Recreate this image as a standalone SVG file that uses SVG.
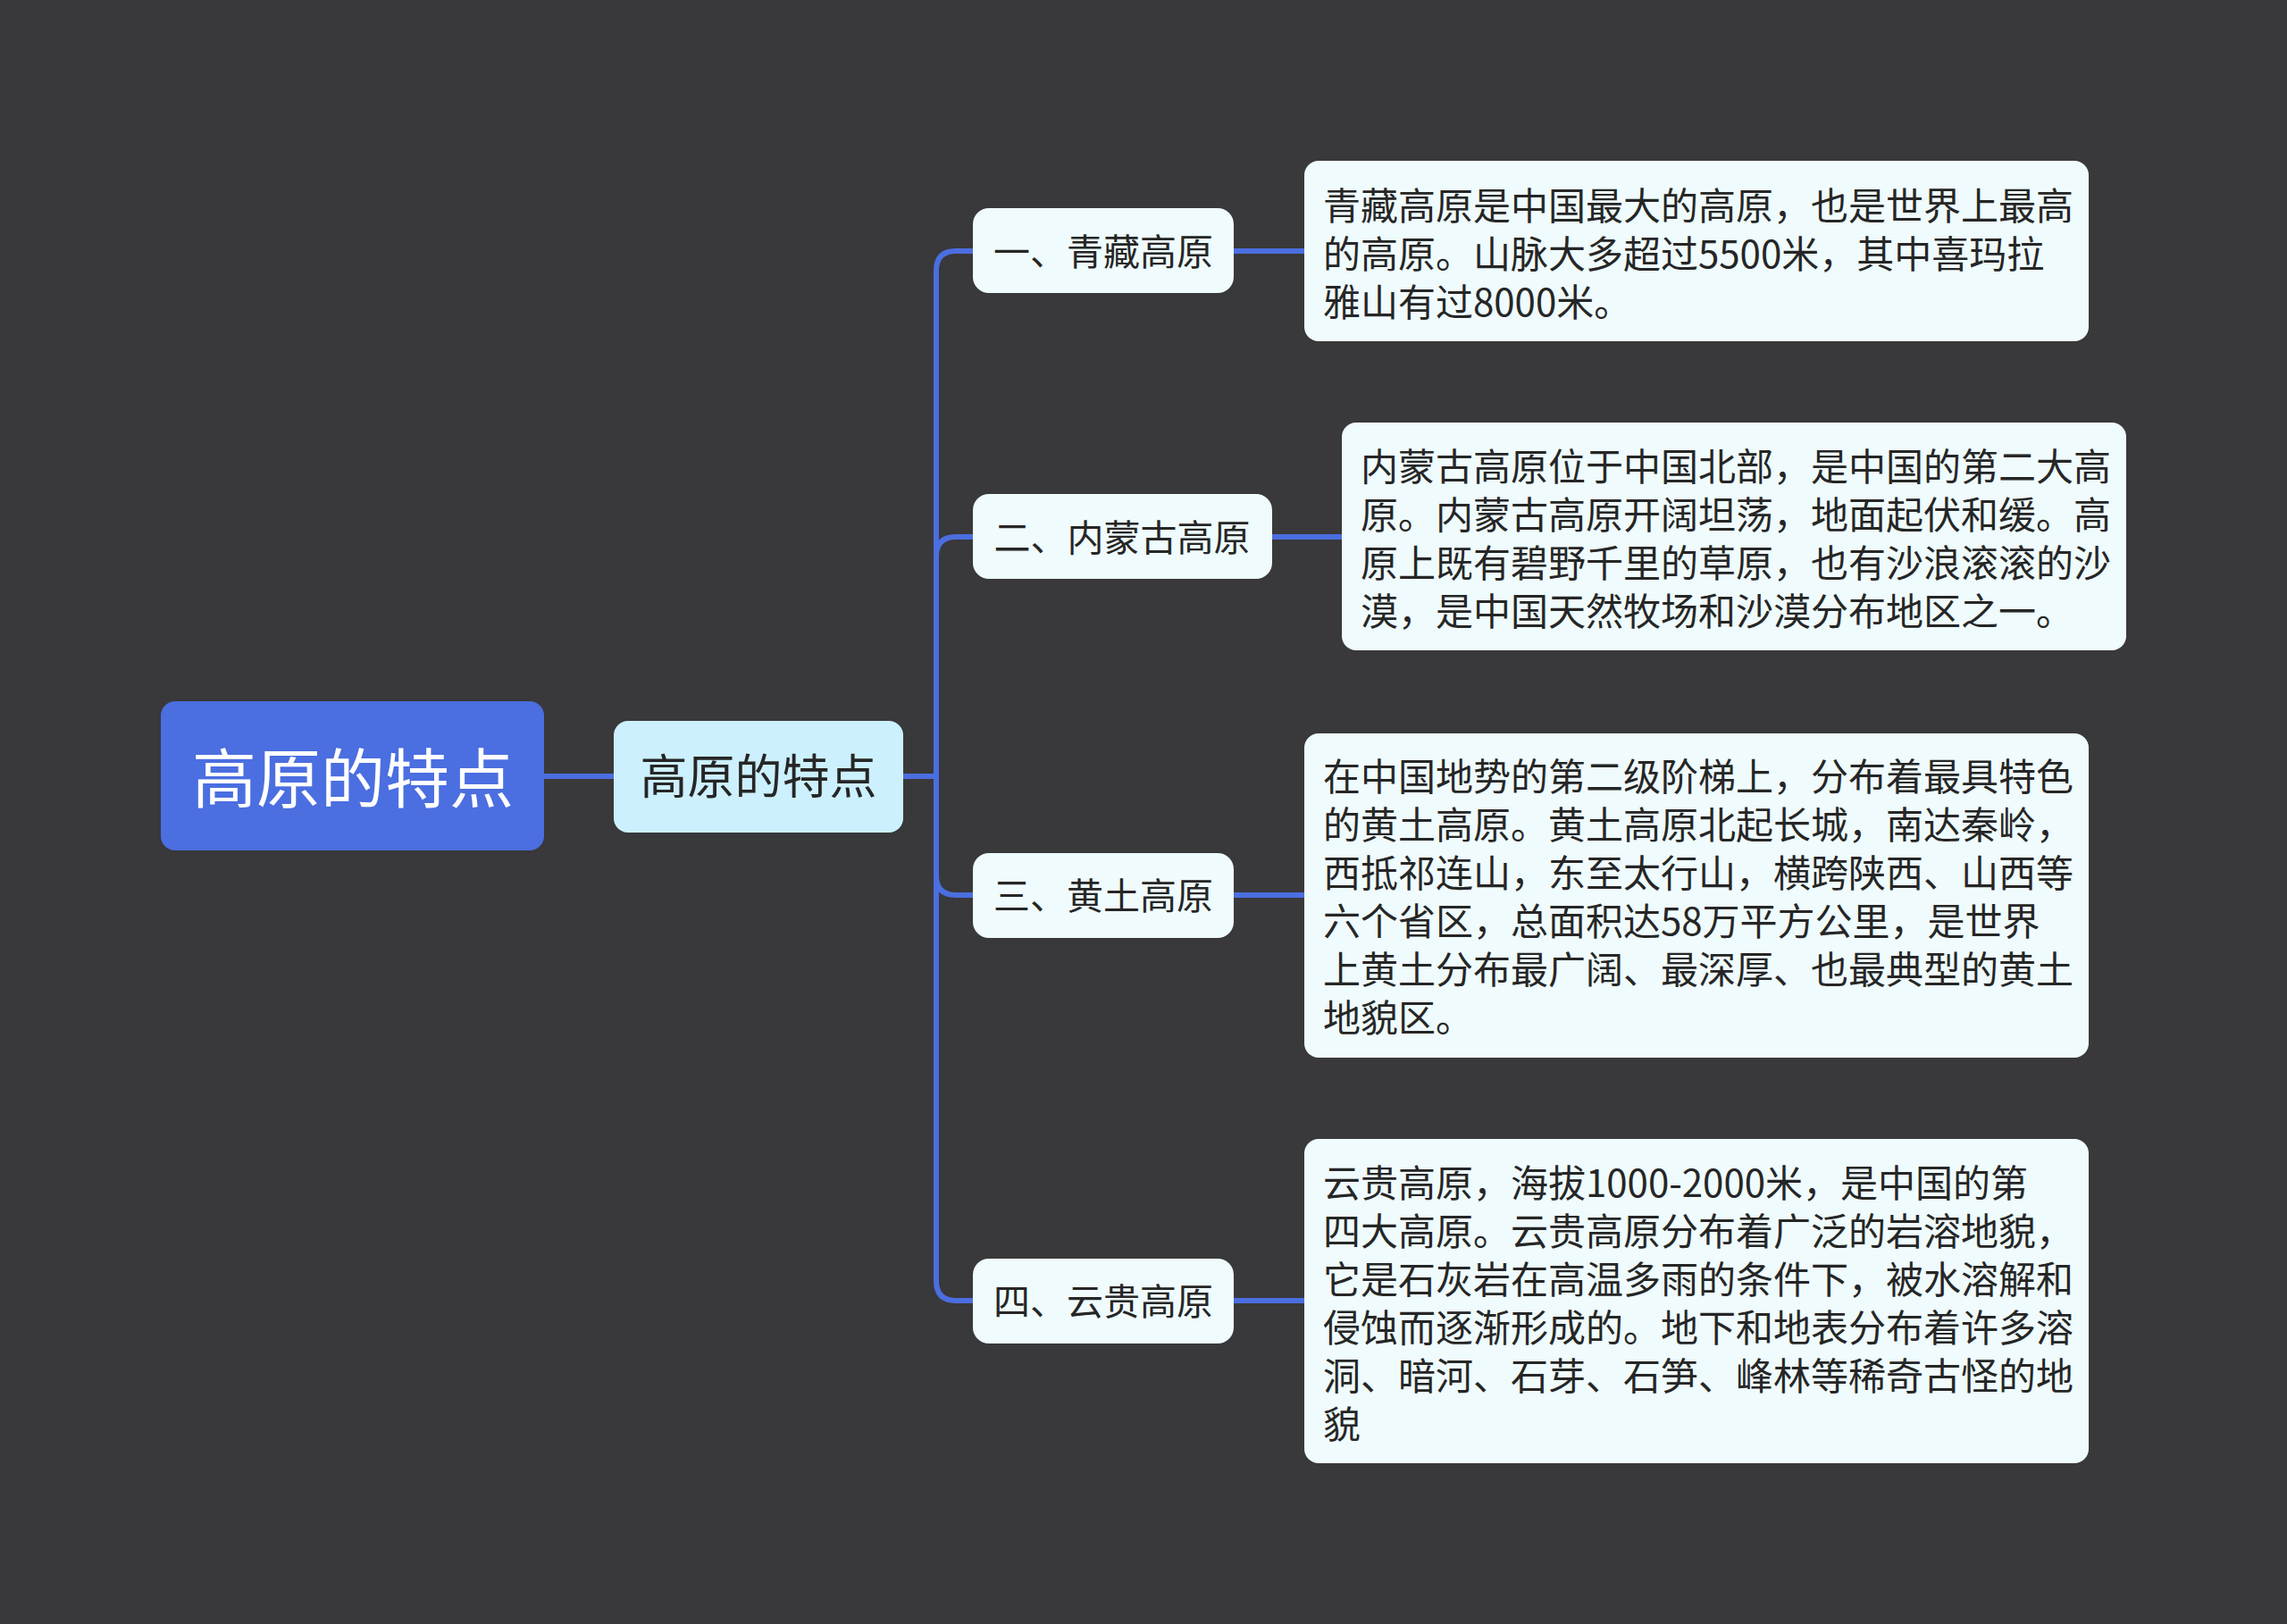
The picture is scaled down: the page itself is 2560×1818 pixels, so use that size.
<svg xmlns="http://www.w3.org/2000/svg" width="2560" height="1818" viewBox="0 0 2560 1818">
<style>
.t{font-family:"Noto Sans CJK SC","Noto Sans",sans-serif;dominant-baseline:central}
.leaf{fill:#effbfc}
.lt{font-size:42px;fill:#262626}
.bt{font-size:41px;fill:#262626;text-anchor:middle}
.ln{fill:none;stroke:#4b6ee0;stroke-width:6}
</style>
<rect width="2560" height="1818" fill="#39383a"/>
<g id="connectors">
<path class="ln" d="M609 869H687"/>
<path class="ln" d="M1011 869H1048"/>
<path class="ln" d="M1089 281H1070Q1048 281 1048 303V1434Q1048 1456 1070 1456H1089"/>
<path class="ln" d="M1048 623Q1048 601 1070 601H1089"/>
<path class="ln" d="M1048 980Q1048 1002 1070 1002H1089"/>
<path class="ln" d="M1381 281H1460"/>
<path class="ln" d="M1424 601H1502"/>
<path class="ln" d="M1381 1002H1460"/>
<path class="ln" d="M1381 1456H1460"/>
</g>
<g id="root">
<rect x="180" y="785" width="429" height="167" rx="16" fill="#4b6ee0"/>
<text class="t" x="395" y="866" font-size="72" fill="#ffffff" text-anchor="middle">高原的特点</text>
</g>
<g id="sub">
<rect x="687" y="807" width="324" height="125" rx="16" fill="#ccf0fd"/>
<text class="t" x="849" y="866" font-size="53" fill="#262626" text-anchor="middle">高原的特点</text>
</g>
<g id="b1">
<rect class="leaf" x="1089" y="233" width="292" height="95" rx="18"/>
<text class="t bt" x="1235" y="279">一、青藏高原</text>
</g>
<g id="b2">
<rect class="leaf" x="1089" y="553" width="335" height="95" rx="18"/>
<text class="t bt" x="1256" y="599">二、内蒙古高原</text>
</g>
<g id="b3">
<rect class="leaf" x="1089" y="955" width="292" height="95" rx="18"/>
<text class="t bt" x="1235" y="1000">三、黄土高原</text>
</g>
<g id="b4">
<rect class="leaf" x="1089" y="1409" width="292" height="95" rx="18"/>
<text class="t bt" x="1235" y="1454">四、云贵高原</text>
</g>
<g id="l1">
<rect class="leaf" x="1460" y="180" width="878" height="202" rx="16"/>
<text class="t lt"><tspan x="1481" y="227">青藏高原是中国最大的高原，也是世界上最高</tspan><tspan x="1481" y="281">的高原。山脉大多超过5500米，其中喜玛拉</tspan><tspan x="1481" y="335">雅山有过8000米。</tspan></text>
</g>
<g id="l2">
<rect class="leaf" x="1502" y="473" width="878" height="255" rx="16"/>
<text class="t lt"><tspan x="1523" y="519">内蒙古高原位于中国北部，是中国的第二大高</tspan><tspan x="1523" y="573">原。内蒙古高原开阔坦荡，地面起伏和缓。高</tspan><tspan x="1523" y="627">原上既有碧野千里的草原，也有沙浪滚滚的沙</tspan><tspan x="1523" y="681">漠，是中国天然牧场和沙漠分布地区之一。</tspan></text>
</g>
<g id="l3">
<rect class="leaf" x="1460" y="821" width="878" height="363" rx="16"/>
<text class="t lt"><tspan x="1481" y="866">在中国地势的第二级阶梯上，分布着最具特色</tspan><tspan x="1481" y="920">的黄土高原。黄土高原北起长城，南达秦岭，</tspan><tspan x="1481" y="974">西抵祁连山，东至太行山，横跨陕西、山西等</tspan><tspan x="1481" y="1028">六个省区，总面积达58万平方公里，是世界</tspan><tspan x="1481" y="1082">上黄土分布最广阔、最深厚、也最典型的黄土</tspan><tspan x="1481" y="1136">地貌区。</tspan></text>
</g>
<g id="l4">
<rect class="leaf" x="1460" y="1275" width="878" height="363" rx="16"/>
<text class="t lt"><tspan x="1481" y="1321">云贵高原，海拔1000-2000米，是中国的第</tspan><tspan x="1481" y="1375">四大高原。云贵高原分布着广泛的岩溶地貌，</tspan><tspan x="1481" y="1429">它是石灰岩在高温多雨的条件下，被水溶解和</tspan><tspan x="1481" y="1483">侵蚀而逐渐形成的。地下和地表分布着许多溶</tspan><tspan x="1481" y="1537">洞、暗河、石芽、石笋、峰林等稀奇古怪的地</tspan><tspan x="1481" y="1591">貌</tspan></text>
</g>
</svg>
